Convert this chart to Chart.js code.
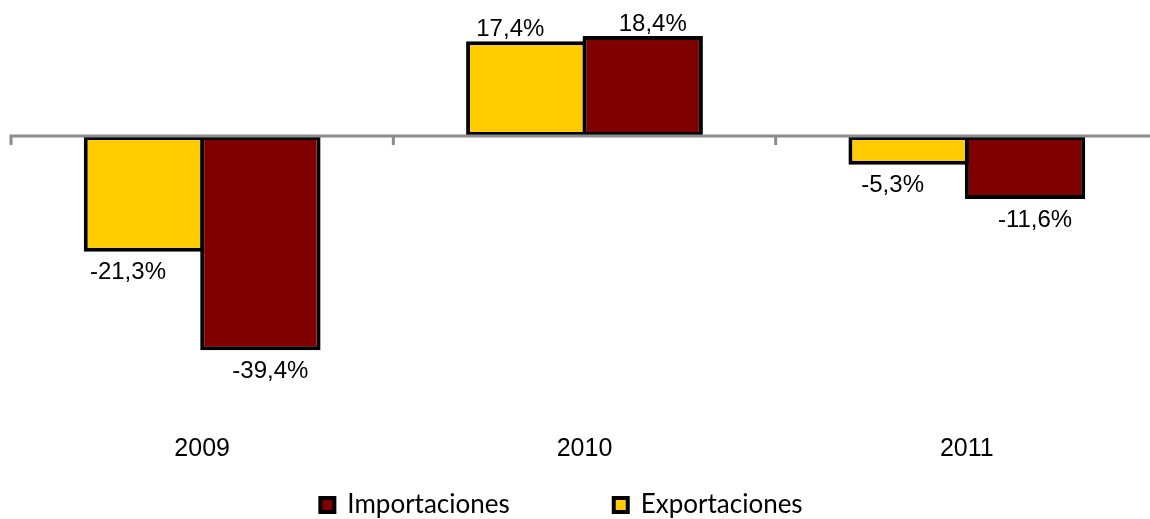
<!DOCTYPE html>
<html>
<head>
<meta charset="utf-8">
<script src="https://cdn.jsdelivr.net/npm/chart.js@4.4.0/dist/chart.umd.min.js"></script>
<style>
  html, body { margin: 0; padding: 0; background: #fff; overflow: hidden; }
  #wrap { width: 1160px; height: 519px; }
</style>
</head>
<body>
<div id="wrap"><canvas id="tradeChart"></canvas></div>
<script>
// data
const years = ["2009", "2010", "2011"];
const exportaciones = [-21.3, 17.4, -5.3];
const importaciones = [-39.4, 18.4, -11.6];

// gray zero line with small tick marks at the category borders, drawn over the bars
const zeroAxis = {
  id: "zeroAxis",
  afterDatasetsDraw(chart) {
    const { ctx, chartArea, scales: { x, y } } = chart;
    const y0 = y.getPixelForValue(0);
    ctx.save();
    ctx.strokeStyle = "#8c8c8c";
    ctx.lineWidth = 3;
    ctx.beginPath();
    ctx.moveTo(chartArea.left - 1.5, y0);
    ctx.lineTo(chartArea.right, y0);
    for (let i = 0; i <= years.length; i++) {
      const px = x.getPixelForValue(i - 0.5);
      ctx.moveTo(px, y0);
      ctx.lineTo(px, y0 + 9);
    }
    ctx.stroke();
    ctx.restore();
  }
};

// value labels, "17,4%" style, outside the bar end
const valueLabels = {
  id: "valueLabels",
  afterDatasetsDraw(chart) {
    const ctx = chart.ctx;
    ctx.save();
    ctx.font = "24px 'Liberation Sans', Arial, sans-serif";
    ctx.fillStyle = "#000";
    ctx.textAlign = "center";
    chart.data.datasets.forEach((ds, di) => {
      const meta = chart.getDatasetMeta(di);
      meta.data.forEach((bar, i) => {
        const v = ds.data[i];
        const txt = v.toFixed(1).replace(".", ",") + "%";
        const shift = ds.labelShift || 0;
        if (v >= 0) {
          ctx.textBaseline = "alphabetic";
          ctx.fillText(txt, bar.x + shift, bar.y - 5);
        } else {
          ctx.textBaseline = "top";
          ctx.fillText(txt, bar.x + shift, bar.y + 9);
        }
      });
    });
    ctx.restore();
  }
};

// legend: keep wide gap between items but don't let it eat vertical space
const legendPlacer = {
  id: "legendPlacer",
  beforeLayout(chart) {
    const lg = chart.legend;
    if (lg && !lg._patched) {
      const fit = lg.fit;
      lg.fit = function () {
        fit.call(this);
        this.height = 29;
      };
      lg._patched = true;
    }
  },
  afterLayout(chart) {
    const lg = chart.legend;
    const pad = lg.options.labels.padding;
    lg.top = chart.height - pad - 27;
    lg.bottom = chart.height;
    lg.left -= 23;
    lg.right -= 23;
  }
};

const ctx = document.getElementById("tradeChart").getContext("2d");

new Chart(ctx, {
  type: "bar",
  data: {
    labels: years,
    datasets: [
      {
        label: "Exportaciones",
        data: exportaciones,
        backgroundColor: "#ffcc00",
        borderColor: "#000000",
        borderWidth: 4,
        borderSkipped: false,
        labelShift: -16
      },
      {
        label: "Importaciones",
        data: importaciones,
        backgroundColor: "#800000",
        borderColor: "#000000",
        borderWidth: 4,
        borderSkipped: false,
        labelShift: 10
      }
    ]
  },
  options: {
    responsive: true,
    maintainAspectRatio: false,
    animation: false,
    layout: { padding: { left: 11, right: 2, top: 0, bottom: 0 } },
    datasets: {
      bar: { categoryPercentage: 0.609, barPercentage: 1.034 }
    },
    scales: {
      x: {
        grid: { display: false, drawTicks: false },
        border: { display: false },
        ticks: {
          color: "#000",
          padding: 26,
          font: { family: "'Liberation Sans', Arial, sans-serif", size: 25 }
        }
      },
      y: {
        display: false,
        min: -50,
        max: 25
      }
    },
    plugins: {
      tooltip: { enabled: false },
      legend: {
        position: "bottom",
        reverse: true,
        labels: {
          color: "#000",
          boxWidth: 14,
          boxHeight: 14,
          padding: 104,
          font: { family: "Lato, 'Noto Sans', sans-serif", size: 26 }
        }
      }
    }
  },
  plugins: [zeroAxis, valueLabels, legendPlacer]
});
</script>
</body>
</html>
